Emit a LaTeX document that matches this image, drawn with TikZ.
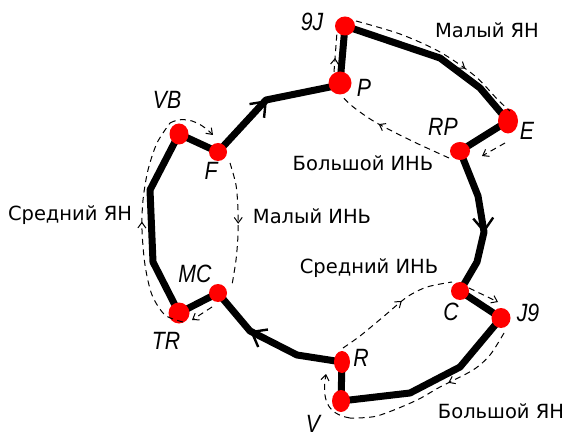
\documentclass[tikz,border=0pt]{standalone}
\usepackage{fontspec}
\setmainfont{DejaVu Sans}
\newfontfamily\ptfont[FakeStretch=0.85]{Liberation Sans}
\usetikzlibrary{arrows.meta,decorations.markings,shapes.geometric}
\pgfdeclarelayer{bg}
\pgfsetlayers{bg,main}
\tikzset{
  dot/.style 2 args={ellipse, fill=red, draw=none, inner sep=0pt,
    minimum width=#1pt, minimum height=#2pt},
  road/.style={line width=7pt, line join=round, line cap=round},
  bigtip/.style={line width=2.4pt, -{Straight Barb[length=13pt,width=20pt]}},
  dsh/.style={line width=1pt, dash pattern=on 6pt off 4.5pt},
  endtip/.style={-{Straight Barb[length=5.5pt,width=8pt]}},
  midtip/.style={postaction={decorate}, decoration={markings,
    mark=at position #1 with {\arrow[solid,line width=1pt]{Straight Barb[length=5.5pt,width=8pt]}}}},
  tag/.style={font=\ptfont\itshape\fontsize{25}{25}\selectfont, inner sep=0pt},
  lbl/.style={font=\fontsize{19.5}{20}\selectfont, inner sep=0pt},
}
\begin{document}
\begin{tikzpicture}[x=1pt,y=-1pt]
\useasboundingbox (0,0) rectangle (567,438);

% stations of the cycle
\node[dot={20}{19}] (9J) at (345,26) {};
\node[dot={23}{23}] (P)  at (340,83) {};
\node[dot={20}{25}] (E)  at (508,121) {};
\node[dot={20}{18}] (RP) at (460,151) {};
\node[dot={18}{18}] (C)  at (460,291) {};
\node[dot={19}{20}] (J9) at (501,318) {};
\node[dot={16}{22}] (R)  at (342,362) {};
\node[dot={18}{22}] (V)  at (341,401) {};
\node[dot={18}{18}] (MC) at (218,293) {};
\node[dot={21}{21}] (TR) at (179,313) {};
\node[dot={19}{21}] (VB) at (179,134) {};
\node[dot={18}{18}] (F)  at (218,152) {};

% station names
\node[tag] (n9J) at (312,22) {9J};
\node[tag] (nP)  at (364,88) {P};
\node[tag] (nE)  at (527,131) {E};
\node[tag] (nRP) at (443,127) {RP};
\node[tag] (nC)  at (451,312) {C};
\node[tag] (nJ9) at (528,313) {J9};
\node[tag] (nR)  at (361,358) {R};
\node[tag] (nV)  at (313,424) {V};
\node[tag] (nMC) at (195,274) {MC};
\node[tag] (nTR) at (166,341) {TR};
\node[tag] (nVB) at (167,100) {VB};
\node[tag] (nF)  at (211,171) {F};

% phase names
\node[lbl] (lMY) at (487,30)  {Малый ЯН};
\node[lbl] (lBI) at (363,163) {Большой ИНЬ};
\node[lbl] (lMI) at (312,216) {Малый ИНЬ};
\node[lbl] (lSY) at (70,215)  {Средний ЯН};
\node[lbl] (lSI) at (369,268) {Средний ИНЬ};
\node[lbl] (lBY) at (501,411) {Большой ЯН};

\begin{pgfonlayer}{bg}
% the main loop
\draw[road] (P.center) -- (9J.center) -- (440,58) -- (480,88) -- (E.center)
  -- (RP.center) -- (478,196) -- (484,232) -- (477,262) -- (C.center)
  -- (J9.center) -- (460,367) -- (410,393) -- (V.center) -- (R.center)
  -- (297,355) -- (250,331) -- (MC.center) -- (TR.center) -- (153,262)
  -- (150,190) -- (VB.center) -- (F.center) -- (266,100) -- (330,87) -- (P.center);
\end{pgfonlayer}

% direction marks on the loop
\draw[bigtip] (252,116) -- (267,100);
\draw[bigtip] (483,214) -- (484,233);
\draw[bigtip] (268,341) -- (250,331);

% short transitions inside each pair
\draw[dsh,midtip=0.35] (334,72) -- (337,32);
\draw[dsh,endtip] (505,143) -- (482,156);
\draw[dsh,endtip] (469,288) -- (498,302);
\draw[dsh,endtip] (350,418) .. controls (326,414) and (322,398) .. (326,374);
\draw[dsh,endtip] (212,307) -- (192,320);
\draw[dsh,endtip] (170,123) .. controls (185,115) and (200,122) .. (213,135);

% long transitions
\draw[dsh,midtip=0.66] plot[smooth] coordinates
  {(356,21) (400,34) (440,52) (475,76) (498,100) (510,111)};
\draw[dsh,midtip=0.62] plot[smooth] coordinates
  {(449,158) (412,141) (375,122) (352,106) (341,95)};
\draw[dsh,midtip=0.58] plot[smooth] coordinates
  {(343,348) (360,336) (383,317) (407,297) (427,287) (452,282)};
\draw[dsh,midtip=0.42] plot[smooth] coordinates
  {(504,333) (490,355) (473,370) (440,387) (415,401) (377,416) (350,418)};
\draw[dsh,midtip=0.53] plot[smooth] coordinates
  {(183,322) (165,315) (152,295) (145,265) (142,230) (143,200) (148,170) (157,143) (170,123)};
\draw[dsh,midtip=0.5] plot[smooth] coordinates
  {(230,163) (236,185) (238,210) (238,235) (236,260) (232,285)};
\end{tikzpicture}
\end{document}
